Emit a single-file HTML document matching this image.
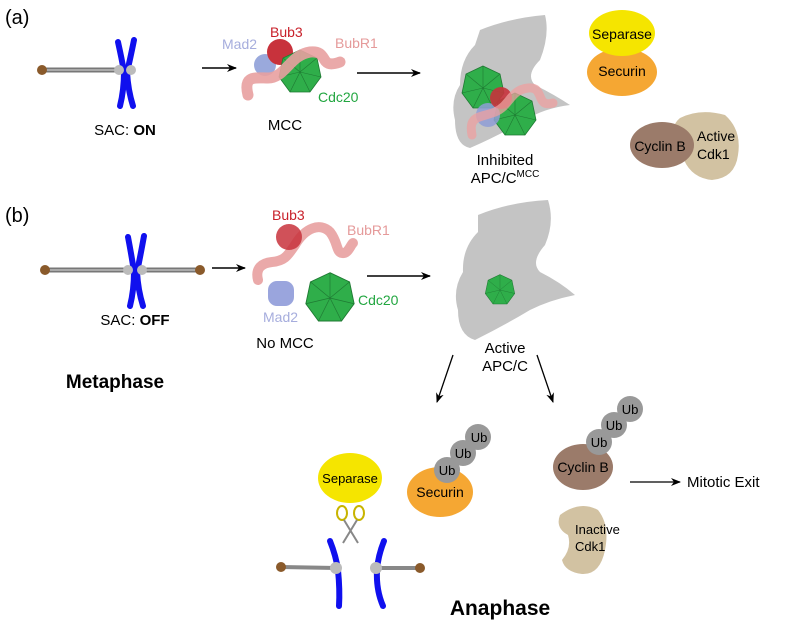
<!DOCTYPE html>
<html><head><style>body{margin:0;background:#fff}svg{display:block}text{font-family:"Liberation Sans",Arial,sans-serif}</style></head><body>
<svg width="800" height="625" viewBox="0 0 800 625" xmlns="http://www.w3.org/2000/svg">
<defs>
<marker id="ah" markerWidth="10" markerHeight="8" refX="9" refY="4" orient="auto" markerUnits="userSpaceOnUse"><path d="M0,0 L10,4 L0,8 L3,4Z" fill="#000"/></marker>
<g id="hept"><polygon points="0,-22 17,-14 21,5 10,20 -10,20 -21,5 -17,-14" fill="#2fae4a" stroke="#1f7a33" stroke-width="0.8"/><g stroke="#1f7a33" stroke-width="0.6"><line x1="0" y1="0" x2="0" y2="-22"/><line x1="0" y1="0" x2="17" y2="-14"/><line x1="0" y1="0" x2="21" y2="5"/><line x1="0" y1="0" x2="10" y2="20"/><line x1="0" y1="0" x2="-10" y2="20"/><line x1="0" y1="0" x2="-21" y2="5"/><line x1="0" y1="0" x2="-17" y2="-14"/></g></g>
</defs>
<text x="5" y="24" font-size="20">(a)</text>
<text x="5" y="222" font-size="20">(b)</text>

<!-- panel a chromosome -->
<line x1="42" y1="70" x2="120" y2="70" stroke="#777" stroke-width="5"/>
<line x1="42" y1="70" x2="120" y2="70" stroke="#bbb" stroke-width="1.5"/>
<circle cx="42" cy="70" r="5" fill="#8a5a2b"/>
<g stroke="#1010ee" stroke-width="6" stroke-linecap="round" fill="none">
<path d="M118,42 Q122,60 124,72 Q124,90 120,106"/>
<path d="M134,40 Q130,60 127,72 Q128,90 133,106"/>
</g>
<circle cx="119" cy="70" r="5" fill="#bbb"/><circle cx="131" cy="70" r="5" fill="#bbb"/>
<text x="125" y="135" font-size="15" text-anchor="middle">SAC: <tspan font-weight="bold">ON</tspan></text>
<line x1="202" y1="68" x2="236" y2="68" stroke="#000" stroke-width="1.5" marker-end="url(#ah)"/>

<!-- MCC a -->
<circle cx="265" cy="65" r="11" fill="#8fa0d8" opacity="0.9"/>
<circle cx="280" cy="52" r="13" fill="#c8323c"/>
<use href="#hept" x="300" y="72"/>
<path d="M248,95 C243,75 255,78 268,78 C285,78 290,55 310,52 C330,50 318,70 340,62" fill="none" stroke="#e8a0a0" stroke-width="11" stroke-linecap="round" opacity="0.9"/>
<text x="270" y="37" font-size="14" fill="#c8202a">Bub3</text>
<text x="335" y="48" font-size="14" fill="#e59a9a">BubR1</text>
<text x="222" y="49" font-size="14" fill="#a6addd">Mad2</text>
<text x="318" y="102" font-size="14" fill="#22a640">Cdc20</text>
<text x="285" y="130" font-size="15" text-anchor="middle">MCC</text>
<line x1="357" y1="73" x2="420" y2="73" stroke="#000" stroke-width="1.5" marker-end="url(#ah)"/>

<!-- APC/C inhibited -->
<path d="M480,30 Q510,18 545,15 Q550,35 540,60 Q525,75 535,85 Q555,95 570,105 Q545,108 525,120 Q500,135 470,148 Q455,145 455,120 Q450,100 460,85 Q460,60 475,45Z" fill="#c4c4c4"/>
<use href="#hept" x="483" y="88"/>
<use href="#hept" x="515" y="115"/>
<circle cx="488" cy="115" r="12" fill="#8f9dd6" opacity="0.85"/>
<circle cx="501" cy="98" r="11" fill="#c8323c" opacity="0.9"/>
<path d="M472,135 C468,115 480,118 495,112 C510,106 510,90 528,88 C545,86 535,108 553,103" fill="none" stroke="#eda0a0" stroke-width="9" stroke-linecap="round" opacity="0.75"/>
<text x="505" y="165" font-size="15" text-anchor="middle">Inhibited</text>
<text x="505" y="183" font-size="15" text-anchor="middle">APC/C<tspan font-size="10" dy="-6">MCC</tspan></text>

<ellipse cx="622" cy="72" rx="35" ry="24" fill="#f5a733"/>
<ellipse cx="622" cy="33" rx="33" ry="23" fill="#f5e500"/>
<text x="622" y="39" font-size="14" text-anchor="middle">Separase</text>
<text x="622" y="76" font-size="14" text-anchor="middle">Securin</text>
<path d="M680,118 Q700,108 725,115 Q742,130 738,155 Q735,178 712,180 Q692,178 684,160 Q672,150 680,140 Q668,128 680,118Z" fill="#d2c2a2"/>
<ellipse cx="662" cy="145" rx="32" ry="23" fill="#9b7b6a"/>
<text x="660" y="151" font-size="14" text-anchor="middle">Cyclin B</text>
<text x="697" y="141" font-size="14">Active</text>
<text x="697" y="159" font-size="14">Cdk1</text>

<!-- panel b chromosome -->
<line x1="45" y1="270" x2="200" y2="270" stroke="#777" stroke-width="5"/>
<line x1="45" y1="270" x2="200" y2="270" stroke="#bbb" stroke-width="1.5"/>
<circle cx="45" cy="270" r="5" fill="#8a5a2b"/><circle cx="200" cy="270" r="5" fill="#8a5a2b"/>
<g stroke="#1010ee" stroke-width="6" stroke-linecap="round" fill="none">
<path d="M128,237 Q132,258 134,272 Q134,290 130,306"/>
<path d="M144,236 Q140,258 137,272 Q138,290 143,306"/>
</g>
<circle cx="128" cy="270" r="5" fill="#bbb"/><circle cx="142" cy="270" r="5" fill="#bbb"/>
<text x="135" y="325" font-size="15" text-anchor="middle">SAC: <tspan font-weight="bold">OFF</tspan></text>
<line x1="212" y1="268" x2="245" y2="268" stroke="#000" stroke-width="1.5" marker-end="url(#ah)"/>

<!-- no MCC -->
<path d="M258,280 C255,268 262,263 272,262 C285,261 288,255 295,245 C305,228 320,222 330,232 C338,242 336,252 342,253 C348,254 350,246 353,243" fill="none" stroke="#e8a0a0" stroke-width="10" stroke-linecap="round" opacity="0.9"/>
<circle cx="289" cy="237" r="13" fill="#c8323c" opacity="0.85"/>
<rect x="268" y="281" width="26" height="25" rx="9" fill="#9aa5dd"/>
<g transform="translate(330,298) scale(1.15)"><use href="#hept"/></g>
<text x="272" y="220" font-size="14" fill="#c8202a">Bub3</text>
<text x="347" y="235" font-size="14" fill="#e59a9a">BubR1</text>
<text x="263" y="322" font-size="14" fill="#a6addd">Mad2</text>
<text x="358" y="305" font-size="14" fill="#22a640">Cdc20</text>
<text x="285" y="348" font-size="15" text-anchor="middle">No MCC</text>
<line x1="367" y1="276" x2="430" y2="276" stroke="#000" stroke-width="1.5" marker-end="url(#ah)"/>

<!-- APC/C active -->
<path d="M478,215 Q510,202 548,200 Q555,222 545,245 Q530,262 540,272 Q560,282 575,295 Q550,300 530,310 Q505,325 475,340 Q458,335 458,310 Q452,290 463,272 Q462,248 478,232Z" fill="#c4c4c4"/>
<g transform="translate(500,290) scale(0.7)"><use href="#hept"/></g>
<text x="505" y="353" font-size="15" text-anchor="middle">Active</text>
<text x="505" y="371" font-size="15" text-anchor="middle">APC/C</text>
<text x="115" y="388" font-size="19" font-weight="bold" text-anchor="middle">Metaphase</text>
<line x1="453" y1="355" x2="437" y2="402" stroke="#000" stroke-width="1.3" marker-end="url(#ah)"/>
<line x1="537" y1="355" x2="553" y2="402" stroke="#000" stroke-width="1.3" marker-end="url(#ah)"/>

<!-- anaphase -->
<ellipse cx="350" cy="478" rx="32" ry="25" fill="#f5e500"/>
<text x="350" y="483" font-size="13" text-anchor="middle">Separase</text>
<g stroke="#c8b400" stroke-width="2" fill="none"><ellipse cx="342" cy="513" rx="5" ry="7"/><ellipse cx="359" cy="513" rx="5" ry="7"/></g>
<path d="M344,520 L358,543 M357,520 L343,543" stroke="#888" stroke-width="2"/>
<ellipse cx="440" cy="492" rx="33" ry="25" fill="#f5a733"/>
<text x="440" y="497" font-size="14" text-anchor="middle">Securin</text>
<g fill="#999"><circle cx="478" cy="437" r="13"/><circle cx="463" cy="453" r="13"/><circle cx="447" cy="470" r="13"/></g>
<g font-size="13" text-anchor="middle"><text x="479" y="442">Ub</text><text x="463" y="458">Ub</text><text x="447" y="475">Ub</text></g>
<line x1="281" y1="567" x2="336" y2="568" stroke="#888" stroke-width="4"/>
<circle cx="281" cy="567" r="5" fill="#8a5a2b"/>
<path d="M330,541 Q336,556 338,570 Q340,590 339,606" stroke="#1010ee" stroke-width="6" stroke-linecap="round" fill="none"/>
<circle cx="336" cy="568" r="6" fill="#bbb"/>
<line x1="376" y1="568" x2="420" y2="568" stroke="#888" stroke-width="4"/>
<circle cx="420" cy="568" r="5" fill="#8a5a2b"/>
<path d="M384,541 Q378,556 377,570 Q376,590 383,606" stroke="#1010ee" stroke-width="6" stroke-linecap="round" fill="none"/>
<circle cx="376" cy="568" r="6" fill="#bbb"/>
<text x="500" y="615" font-size="21" font-weight="bold" text-anchor="middle">Anaphase</text>

<ellipse cx="583" cy="467" rx="30" ry="23" fill="#9b7b6a"/>
<g fill="#999"><circle cx="630" cy="409" r="13"/><circle cx="614" cy="425" r="13"/><circle cx="599" cy="442" r="13"/></g>
<g font-size="13" text-anchor="middle"><text x="630" y="414">Ub</text><text x="614" y="430">Ub</text><text x="599" y="447">Ub</text></g>
<text x="583" y="472" font-size="14" text-anchor="middle">Cyclin B</text>
<line x1="630" y1="482" x2="680" y2="482" stroke="#000" stroke-width="1.3" marker-end="url(#ah)"/>
<text x="687" y="487" font-size="15">Mitotic Exit</text>
<path d="M560,515 Q580,500 598,510 Q610,525 605,550 Q600,575 582,574 Q565,572 562,560 Q572,548 568,535 Q555,528 560,515Z" fill="#d2c2a2"/>
<text x="575" y="534" font-size="13">Inactive</text>
<text x="575" y="551" font-size="13">Cdk1</text>
</svg>
</body></html>
